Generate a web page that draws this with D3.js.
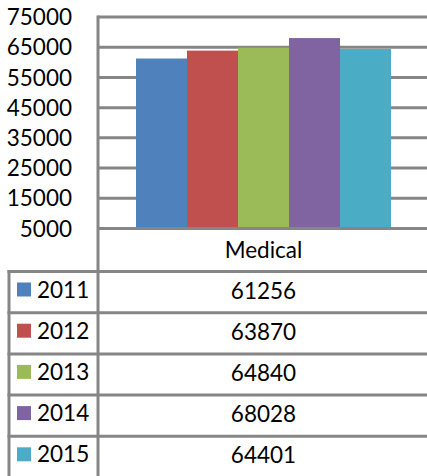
<!DOCTYPE html>
<html><head><meta charset="utf-8">
<script src="https://cdn.jsdelivr.net/npm/d3@7"></script>
<style>html,body{margin:0;padding:0;background:#fff;overflow:hidden}</style>
</head><body>
<script>
const categories = ["Medical"];
const years = ["2011","2012","2013","2014","2015"];
const values = [61256, 63870, 64840, 68028, 64401];
const colors = ["#4F81BD","#C0504D","#9BBB59","#8064A2","#4BACC6"];
const yTicks = [5000,15000,25000,35000,45000,55000,65000,75000];

const W = 427, H = 476;
const svg = d3.select("body").append("svg").attr("width", W).attr("height", H);
const font = "Lato, Liberation Sans, Arial, sans-serif";
const fs = 22.5;
const lineColor = "#868686";
const lw = 3;

const plotL = 98, plotR = 429;
const y = d3.scaleLinear().domain([5000, 75000]).range([228.5, 17]);
const x0 = d3.scaleBand().domain(categories).range([plotL, plotR]).paddingOuter(0.149).paddingInner(0);
const x1 = d3.scaleBand().domain(years).range([0, x0.bandwidth()]);

// gridlines
svg.append("g").selectAll("line").data(yTicks).join("line")
  .attr("x1", plotL).attr("x2", W)
  .attr("y1", d => y(d)).attr("y2", d => y(d))
  .attr("stroke", lineColor).attr("stroke-width", lw);

// y labels
svg.append("g").selectAll("text").data(yTicks).join("text")
  .attr("x", 72).attr("y", d => y(d)).attr("dy", "0.36em")
  .attr("text-anchor", "end").attr("font-family", font).attr("font-size", fs)
  .attr("fill", "#000").text(d => d);

// bars
const g = svg.append("g");
categories.forEach(c => {
  g.selectAll("rect").data(values).join("rect")
    .attr("x", (d, i) => x0(c) + x1(years[i]))
    .attr("width", x1.bandwidth())
    .attr("y", d => y(d))
    .attr("height", d => y(5000) - 1.5 - y(d))
    .attr("fill", (d, i) => colors[i]);
});

// category label
svg.append("g").selectAll("text").data(categories).join("text")
  .attr("x", d => x0(d) + x0.bandwidth() / 2).attr("y", 258)
  .attr("text-anchor", "middle").attr("font-family", font).attr("font-size", fs)
  .attr("fill", "#000").text(d => d);

// table
const tableTop = 271.5, rowH = 41.2, tableL = 9, colDiv = 98;
const rows = d3.range(years.length + 1).map(i => tableTop + i * rowH);
svg.append("g").selectAll("line").data(rows).join("line")
  .attr("x1", tableL - 1.5).attr("x2", W)
  .attr("y1", d => d).attr("y2", d => d)
  .attr("stroke", lineColor).attr("stroke-width", lw);
// vertical axis / divider line
svg.append("line").attr("x1", colDiv).attr("x2", colDiv).attr("y1", y(75000) - 1.5).attr("y2", H)
  .attr("stroke", lineColor).attr("stroke-width", lw);
svg.append("line").attr("x1", tableL).attr("x2", tableL).attr("y1", tableTop - 1.5).attr("y2", H)
  .attr("stroke", lineColor).attr("stroke-width", lw);

const rg = svg.append("g").selectAll("g").data(years).join("g")
  .attr("transform", (d, i) => `translate(0,${tableTop + i * rowH})`);
rg.append("rect").attr("x", 17).attr("y", 11).attr("width", 14).attr("height", 14)
  .attr("fill", (d, i) => colors[i]);
rg.append("text").attr("x", 37).attr("y", 26).attr("font-family", font).attr("font-size", fs)
  .attr("fill", "#000").text(d => d);
rg.append("text").attr("x", x0(categories[0]) + x0.bandwidth() / 2).attr("y", 27)
  .attr("text-anchor", "middle").attr("font-family", font).attr("font-size", fs)
  .attr("fill", "#000").text((d, i) => values[i]);
</script>
</body></html>
